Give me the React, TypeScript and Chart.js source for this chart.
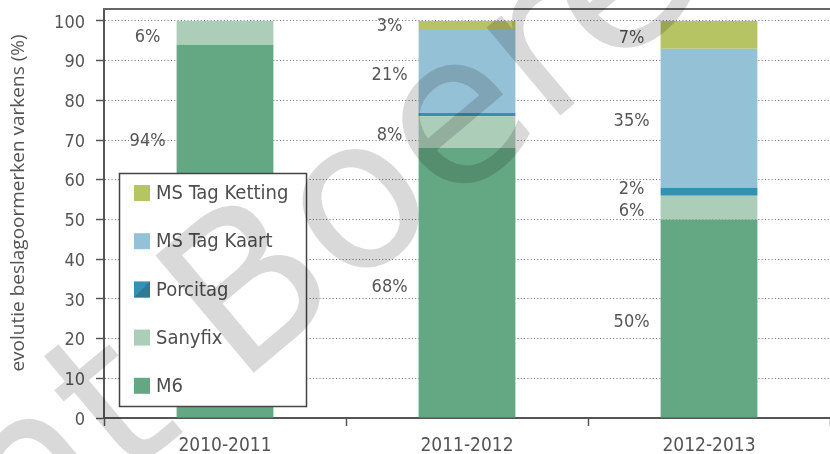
import React, { useEffect, useRef } from "react";
import { Chart, registerables } from "chart.js";

Chart.register(...registerables);

const categories = ["2010-2011", "2011-2012", "2012-2013"];
const seriesNames = ["M6", "Sanyfix", "Porcitag", "MS Tag Kaart", "MS Tag Ketting"];
const m6 = [94, 68, 50];
const sanyfix = [6, 8, 6];
const porcitag = [0, 0.8, 2];
const msTagKaart = [0, 20.9, 35];
const msTagKetting = [0, 2.3, 7];
const seriesColors = ["#64a783", "#accdb8", "#3591b1", "#95c1d6", "#b6c463"];
const yTicks = [0, 10, 20, 30, 40, 50, 60, 70, 80, 90, 100];
const yTitle = "evolutie beslagoormerken varkens (%)";

// percentage labels per category, with the value height where each label sits
const pctLabels = [
  ["94%", "6%"],
  ["68%", "8%", "21%", "3%"],
  ["50%", "6%", "2%", "35%", "7%"],
];
const pctLabelAnchors = [
  [69.8, 95.8],
  [33, 71.3, 86.4, 98.7],
  [24.2, 52.1, 57.7, 74.6, 95.7],
];

const DIN = "'DejaVu Sans Condensed', 'DejaVu Sans', sans-serif";
const TEXT = "#555555";

const overlayPlugin = {
  id: "overlay",
  afterDatasetsDraw(chart: any) {
    const ctx = chart.ctx;
    const y = chart.scales.y;
    const meta = chart.getDatasetMeta(0);
    ctx.save();
    ctx.font = `18px ${DIN}`;
    ctx.fillStyle = TEXT;
    ctx.textAlign = "center";
    ctx.textBaseline = "middle";
    pctLabels.forEach((labels, i) => {
      const el = meta.data[i];
      const left = el.x - el.width / 2;
      labels.forEach((t, j) => {
        ctx.fillText(t, left - 29, y.getPixelForValue(pctLabelAnchors[i][j]));
      });
    });
    ctx.restore();
  },
  afterDraw(chart: any) {
    const ctx = chart.ctx;
    const area = chart.chartArea;
    ctx.save();
    // top frame line
    ctx.strokeStyle = "#666";
    ctx.lineWidth = 2;
    ctx.beginPath();
    ctx.moveTo(area.left - 1, area.top);
    ctx.lineTo(area.right, area.top);
    ctx.stroke();

    // y title
    ctx.save();
    ctx.translate(18.5, 203);
    ctx.rotate(-Math.PI / 2);
    ctx.font = "19px 'Open Sans', sans-serif";
    ctx.fillStyle = TEXT;
    ctx.textAlign = "center";
    ctx.textBaseline = "middle";
    ctx.fillText(yTitle, 0, 0);
    ctx.restore();

    // legend box
    const bx = 119.5, by = 173.5, bw = 187, bh = 233;
    ctx.fillStyle = "#ffffff";
    ctx.fillRect(bx, by, bw, bh);
    ctx.strokeStyle = "#444";
    ctx.lineWidth = 1.5;
    ctx.strokeRect(bx, by, bw, bh);
    const order = [4, 3, 2, 1, 0];
    ctx.font = `20px ${DIN}`;
    ctx.textAlign = "left";
    ctx.textBaseline = "middle";
    order.forEach((di, k) => {
      const cy = 193 + k * 48.2;
      const sx = 134, sy = cy - 8, s = 16;
      ctx.fillStyle = seriesColors[di];
      ctx.fillRect(sx, sy, s, s);
      if (di === 2) {
        ctx.fillStyle = "#2c7a94";
        ctx.beginPath();
        ctx.moveTo(sx + s, sy);
        ctx.lineTo(sx + s, sy + s);
        ctx.lineTo(sx, sy + s);
        ctx.closePath();
        ctx.fill();
      }
      ctx.fillStyle = "#4d4d4d";
      ctx.fillText(seriesNames[di], 156, cy + 1);
    });

    // watermark
    ctx.save();
    ctx.translate(238, 386);
    ctx.rotate((-40 * Math.PI) / 180);
    ctx.font = "210px 'DejaVu Sans', sans-serif";
    ctx.fillStyle = "rgba(0,0,0,0.15)";
    ctx.textBaseline = "alphabetic";
    ctx.textAlign = "right";
    ctx.fillText("Copyright ", 0, 0);
    ctx.textAlign = "left";
    ctx.fillText("Boerenbond", 0, 0);
    ctx.restore();

    ctx.restore();
  },
};

export default function App() {
  const ref = useRef<HTMLCanvasElement | null>(null);
  useEffect(() => {
    if (!ref.current) return;
    const data = [m6, sanyfix, porcitag, msTagKaart, msTagKetting];
    const chart = new Chart(ref.current, {
      type: "bar",
      data: {
        labels: categories,
        datasets: data.map((d, i) => ({
          label: seriesNames[i],
          data: d,
          backgroundColor: seriesColors[i],
          borderWidth: 0,
          barPercentage: 0.4,
          categoryPercentage: 1,
        })),
      },
      options: {
        animation: false,
        responsive: false,
        maintainAspectRatio: false,
        layout: { padding: { top: 9, left: 0, right: 0, bottom: 0 } },
        plugins: { legend: { display: false }, tooltip: { enabled: false } },
        scales: {
          x: {
            stacked: true,
            offset: true,
            grid: {
              offset: true,
              drawOnChartArea: false,
              drawTicks: true,
              tickLength: 8,
              tickColor: "#555",
              tickWidth: 1.5,
            },
            border: { color: "#555", width: 2 },
            ticks: { font: { family: DIN, size: 19 }, color: TEXT, padding: 9 },
            afterFit: (s: any) => {
              s.height = 36;
              s.paddingLeft = 0;
              s.paddingRight = 0;
            },
          },
          y: {
            stacked: true,
            min: 0,
            max: 103,
            afterBuildTicks: (s: any) => {
              s.ticks = yTicks.map((v) => ({ value: v }));
            },
            grid: {
              color: "#6a6a6a",
              lineWidth: 1,
              tickLength: 8,
              tickColor: "#555",
              tickWidth: 1.5,
              tickBorderDash: [],
            },
            border: { color: "#555", width: 2, dash: [1, 2.3] },
            ticks: { font: { family: DIN, size: 18 }, color: TEXT, padding: 11, labelOffset: 2 },
            afterFit: (s: any) => {
              s.width = 104;
              s.paddingTop = 0;
              s.paddingBottom = 0;
            },
          },
        },
      },
      plugins: [overlayPlugin],
    });
    return () => chart.destroy();
  }, []);
  return (
    <div style={{ position: "absolute", left: 0, top: 0, width: 830, height: 454 }}>
      <canvas ref={ref} width={830} height={454} style={{ width: 830, height: 454 }} />
    </div>
  );
}
